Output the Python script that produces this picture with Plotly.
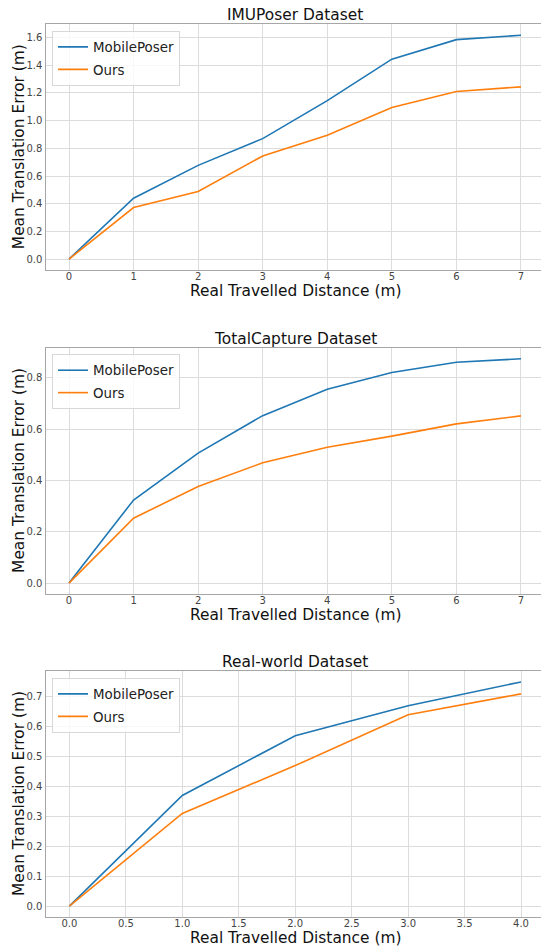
import plotly.graph_objects as go

W, H = 541, 949

# ---- data ----
x_dist_7 = [0, 1, 2, 3, 4, 5, 6, 7]
imu_mobileposer = [0.0, 0.44, 0.677, 0.87, 1.144, 1.444, 1.585, 1.617]
imu_ours = [0.0, 0.372, 0.488, 0.745, 0.894, 1.095, 1.211, 1.244]

tc_mobileposer = [0.0, 0.324, 0.507, 0.653, 0.756, 0.821, 0.861, 0.875]
tc_ours = [0.0, 0.253, 0.377, 0.469, 0.530, 0.573, 0.621, 0.652]

x_dist_4 = [0.0, 1.0, 2.0, 3.0, 4.0]
rw_mobileposer = [0.0, 0.37, 0.57, 0.67, 0.75]
rw_ours = [0.0, 0.31, 0.47, 0.64, 0.71]

titles = ["IMUPoser Dataset", "TotalCapture Dataset", "Real-world Dataset"]
series_names = ["MobilePoser", "Ours"]
x_title = "Real Travelled Distance (m)"
y_title = "Mean Translation Error (m)"

BLUE = "#1f77b4"
ORANGE = "#ff7f0e"
FONT = "DejaVu Sans"

panels = [
    (x_dist_7, imu_mobileposer, imu_ours, [-0.35, 7.31], dict(tick0=0, dtick=1, tickformat="d"), dict(dtick=0.2, tickformat=".1f"), 24, 270.3),
    (x_dist_7, tc_mobileposer, tc_ours, [-0.35, 7.31], dict(tick0=0, dtick=1, tickformat="d"), dict(dtick=0.2, tickformat=".1f"), 347.5, 594.3),
    (x_dist_4, rw_mobileposer, rw_ours, [-0.2035, 4.177], dict(tick0=0, dtick=0.5, tickformat=".1f"), dict(dtick=0.1, tickformat=".1f"), 670.7, 917.3),
]

fig = go.Figure()
layout = dict(
    width=W, height=H,
    margin=dict(l=0, r=0, t=0, b=0, autoexpand=False),
    paper_bgcolor="white", plot_bgcolor="white",
    font=dict(family=FONT, color="#333333"),
    annotations=[],
)

x_left = 46.4 / W
legend_tops = [30.7, 354.0, 677.7]

for i, (xs, mp, ours, xr, xt, yt, top, bottom) in enumerate(panels):
    n = "" if i == 0 else str(i + 1)
    lg = "legend" if i == 0 else f"legend{i + 1}"
    for j, (name, ys, col) in enumerate([(series_names[0], mp, BLUE), (series_names[1], ours, ORANGE)]):
        fig.add_trace(go.Scatter(
            x=xs, y=ys, mode="lines", name=name,
            line=dict(color=col, width=1.6),
            xaxis="x" + n, yaxis="y" + n, legend=lg,
            legendgroup=f"g{i}_{j}",
        ))
    ymax = max(max(mp), max(ours))
    yr = [-0.05 * ymax, 1.05 * ymax]
    layout["xaxis" + n] = dict(
        domain=[x_left, 1], range=xr, anchor="y" + n,
        showgrid=True, gridcolor="#dcdcdc", gridwidth=1,
        showline=True, linecolor="#a6a6a6", linewidth=1, mirror=True,
        zeroline=False, ticks="", ticklabelstandoff=-3,
        tickfont=dict(size=10, color="#444444", family=FONT), automargin=False,
        **xt,
    )
    layout["yaxis" + n] = dict(
        domain=[1 - bottom / H, 1 - top / H], range=yr, anchor="x" + n,
        showgrid=True, gridcolor="#dcdcdc", gridwidth=1,
        showline=True, linecolor="#a6a6a6", linewidth=1, mirror=True,
        zeroline=False, ticks="", ticklabelstandoff=1,
        tickfont=dict(size=10, color="#444444", family=FONT), automargin=False,
        **yt,
    )
    layout[lg] = dict(
        x=52 / W, y=1 - legend_tops[i] / H, xanchor="left", yanchor="top",
        xref="paper", yref="paper",
        bgcolor="rgba(255,255,255,0.8)", bordercolor="#d8d8d8", borderwidth=1,
        font=dict(size=13.4, color="#222222", family=FONT),
        itemwidth=30, tracegroupgap=2,
    )
    xc = (46.4 + 543.6) / 2 / W
    # panel title
    layout["annotations"].append(dict(
        text=titles[i], x=xc, y=1 - (top - 8.8) / H, xref="paper", yref="paper",
        xanchor="center", yanchor="middle", showarrow=False,
        font=dict(size=15.4, color="#111111", family=FONT),
    ))
    # x title
    layout["annotations"].append(dict(
        text=x_title, x=xc, y=1 - (bottom + 20.4) / H, xref="paper", yref="paper",
        xanchor="center", yanchor="middle", showarrow=False,
        font=dict(size=15.4, color="#111111", family=FONT),
    ))
    # y title
    layout["annotations"].append(dict(
        text=y_title, x=19 / W, y=1 - (top + bottom) / 2 / H, xref="paper", yref="paper",
        xanchor="center", yanchor="middle", showarrow=False, textangle=-90,
        font=dict(size=15.4, color="#111111", family=FONT),
    ))

fig.update_layout(**layout)
fig.write_html(
    "out.html",
    config={"displayModeBar": False},
    post_script="document.body.style.margin='0';document.body.style.padding='0';document.body.style.overflow='hidden';",
)
